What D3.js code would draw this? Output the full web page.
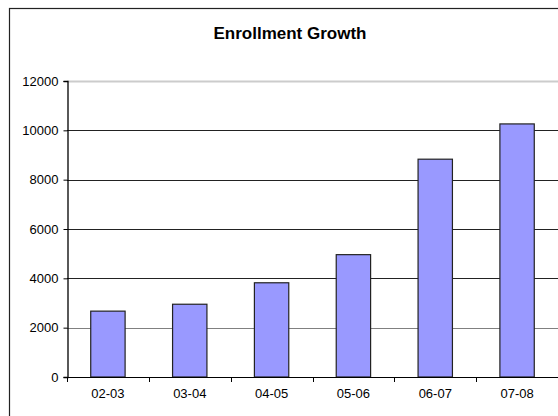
<!DOCTYPE html>
<html>
<head>
<meta charset="utf-8">
<script src="https://cdn.jsdelivr.net/npm/d3@7"></script>
<style>
  body { margin: 0; background: #fff; }
  text { font-family: Arial, "Liberation Sans", sans-serif; fill: #000; }
</style>
</head>
<body>
<div class="chart"></div>
<script>
const years = ["02-03", "03-04", "04-05", "05-06", "06-07", "07-08"];
const enrollment = [2670, 2950, 3820, 4960, 8830, 10260];
const yTicks = [0, 2000, 4000, 6000, 8000, 10000, 12000];

const width = 558, height = 416;
const margin = {top: 81, right: 0, bottom: 39, left: 67};

const svg = d3.select(".chart").append("svg")
    .attr("width", width)
    .attr("height", height);

// outer chart border (runs off the right and bottom)
svg.append("rect")
    .attr("x", 9.5)
    .attr("y", 8.5)
    .attr("width", 700)
    .attr("height", 600)
    .attr("fill", "#fff")
    .attr("stroke", "#222")
    .attr("stroke-width", 1.2);

svg.append("text")
    .attr("x", 290)
    .attr("y", 39)
    .attr("text-anchor", "middle")
    .style("font-size", "17px")
    .style("font-weight", "bold")
    .text("Enrollment Growth");

const x = d3.scaleBand()
    .domain(years)
    .range([margin.left, width - margin.right])
    .paddingInner(0.58)
    .paddingOuter(0.29);

const y = d3.scaleLinear()
    .domain([0, 12000])
    .range([height - margin.bottom, margin.top]);

// gridlines
const gridColor = v => v === 12000 ? "#cccccc" : (v === 2000 ? "#808080" : "#222");
svg.append("g")
    .selectAll("line")
    .data(yTicks.filter(v => v > 0))
    .join("line")
    .attr("x1", margin.left)
    .attr("x2", width)
    .attr("y1", d => Math.round(y(d)) + 0.5)
    .attr("y2", d => Math.round(y(d)) + 0.5)
    .attr("stroke", gridColor)
    .attr("stroke-width", d => d === 12000 ? 2 : 1.2);

// bars
svg.append("g")
    .selectAll("rect")
    .data(years.map((d, i) => ({year: d, value: enrollment[i]})))
    .join("rect")
    .attr("x", d => x(d.year))
    .attr("y", d => y(d.value))
    .attr("width", x.bandwidth())
    .attr("height", d => y(0) - y(d.value))
    .attr("fill", "#9999ff")
    .attr("stroke", "#222")
    .attr("stroke-width", 1.2);

// x axis with ticks between categories
const xTickPos = d3.range(years.length + 1).map(i => margin.left + i * x.step());
const xAxisG = svg.append("g");
xAxisG.append("line")
    .attr("x1", margin.left).attr("x2", width)
    .attr("y1", Math.round(y(0)) + 0.5).attr("y2", Math.round(y(0)) + 0.5)
    .attr("stroke", "#000").attr("stroke-width", 1.2);
xAxisG.selectAll("line.tick")
    .data(xTickPos)
    .join("line")
    .attr("class", "tick")
    .attr("x1", d => Math.round(d) + 0.5).attr("x2", d => Math.round(d) + 0.5)
    .attr("y1", y(0)).attr("y2", y(0) + 5)
    .attr("stroke", "#000");
xAxisG.selectAll("text")
    .data(years)
    .join("text")
    .attr("x", d => x(d) + x.bandwidth() / 2)
    .attr("y", height - 18)
    .attr("text-anchor", "middle")
    .style("font-size", "13px")
    .text(d => d);

// y axis
const yAxis = d3.axisLeft(y)
    .tickValues(yTicks)
    .tickSize(4)
    .tickPadding(5)
    .tickFormat(d3.format("d"));

const yAxisG = svg.append("g")
    .attr("transform", `translate(${margin.left + 0.5},0)`)
    .call(yAxis);
yAxisG.select(".domain").attr("stroke", "#000").attr("stroke-width", 1.3);
yAxisG.selectAll(".tick line").attr("stroke", "#000");
yAxisG.selectAll(".tick text")
    .style("font-size", "13px")
    .style("font-family", "Arial, 'Liberation Sans', sans-serif")
    .attr("fill", "#000");
</script>
</body>
</html>
